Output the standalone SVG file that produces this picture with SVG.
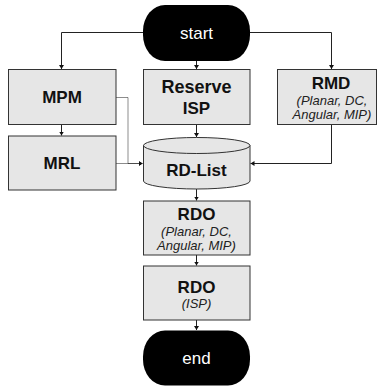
<svg xmlns="http://www.w3.org/2000/svg" width="381" height="387" viewBox="0 0 381 387">
<style>
.box{fill:#e6e6e6;stroke:#333;stroke-width:1}
.term{fill:#000}
.t{font-family:"Liberation Sans",Arial,sans-serif;font-weight:bold;font-size:17px;fill:#111;text-anchor:middle}
.s{font-family:"Liberation Sans",Arial,sans-serif;font-style:italic;font-size:13px;fill:#222;text-anchor:middle}
.w{font-family:"Liberation Sans",Arial,sans-serif;font-size:17px;fill:#fff;text-anchor:middle}
.c{fill:none;stroke:#222;stroke-width:1}
.g{fill:none;stroke:#000;stroke-opacity:0.45;stroke-width:1}
</style>
<defs>
<marker id="a" markerUnits="userSpaceOnUse" markerWidth="6" markerHeight="6" refX="4" refY="2.5" orient="auto">
<path d="M0,0 L4,2.5 L0,5 Z" fill="#111"/>
</marker>
</defs>
<g id="connectors">
<path class="c" d="M143,32.5 H61.5 V69" marker-end="url(#a)"/>
<path class="c" d="M250,32.5 H331.5 V69" marker-end="url(#a)"/>
<path class="c" d="M196.5,61 V69" marker-end="url(#a)"/>
<path class="c" d="M196.5,124.5 V137" marker-end="url(#a)"/>
<path class="c" d="M61.5,124.5 V135.5" marker-end="url(#a)"/>
<path class="g" d="M116,97.5 H128 V163.5 H142.5" marker-end="url(#a)"/>
<path class="g" d="M116,163.5 H142.5" marker-end="url(#a)"/>
<path class="c" d="M331.5,124.5 V163.5 H250.5" marker-end="url(#a)"/>
<path class="c" d="M196.5,189 V200.5" marker-end="url(#a)"/>
<path class="c" d="M196.5,255 V265.5" marker-end="url(#a)"/>
<path class="c" d="M196.5,320 V330" marker-end="url(#a)"/>
</g>
<g id="start">
<rect class="term" x="143" y="5" width="107" height="56" rx="22" ry="26"/>
<text class="w" x="196.5" y="39">start</text>
</g>
<g id="mpm">
<rect class="box" x="8.5" y="69.5" width="107.5" height="55"/>
<text class="t" x="62" y="103">MPM</text>
</g>
<g id="reserve-isp">
<rect class="box" x="143.5" y="69.5" width="106.5" height="55"/>
<text class="t" x="196.5" y="93" style="font-size:18px">Reserve</text>
<text class="t" x="196.5" y="113.5">ISP</text>
</g>
<g id="rmd">
<rect class="box" x="277.5" y="69.5" width="99" height="55"/>
<text class="t" x="331" y="89">RMD</text>
<text class="s" x="332" y="104.5">(Planar, DC,</text>
<text class="s" x="332" y="119">Angular, MIP)</text>
</g>
<g id="mrl">
<rect class="box" x="8.5" y="136" width="107.5" height="54"/>
<text class="t" x="62" y="169">MRL</text>
</g>
<g id="rd-list">
<path class="box" d="M143.5,145.5 V181 A53.25,8 0 0 0 250,181 V145.5 A53.25,8 0 0 0 143.5,145.5 Z"/>
<path class="box" style="fill:none" d="M143.5,145.5 A53.25,8 0 0 0 250,145.5"/>
<text class="t" x="196.5" y="176">RD-List</text>
</g>
<g id="rdo-modes">
<rect class="box" x="143.5" y="201" width="106.5" height="54"/>
<text class="t" x="196.5" y="220">RDO</text>
<text class="s" x="196.5" y="235.5">(Planar, DC,</text>
<text class="s" x="196.5" y="250">Angular, MIP)</text>
</g>
<g id="rdo-isp">
<rect class="box" x="143.5" y="266" width="106.5" height="54"/>
<text class="t" x="196.5" y="292.5">RDO</text>
<text class="s" x="196.5" y="307.5">(ISP)</text>
</g>
<g id="end">
<rect class="term" x="143" y="330.5" width="107" height="55" rx="22" ry="26"/>
<text class="w" x="196.5" y="364">end</text>
</g>
</svg>
